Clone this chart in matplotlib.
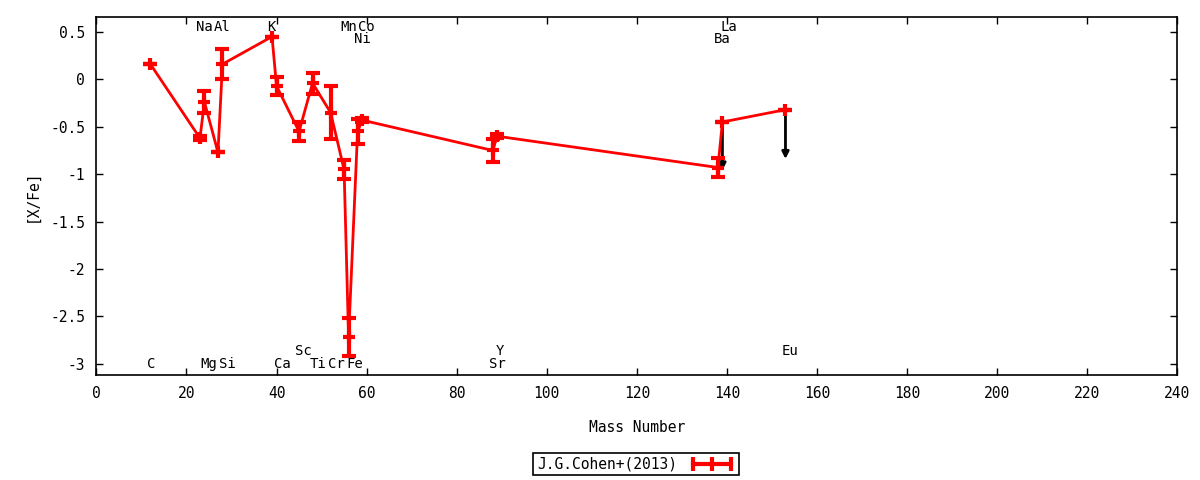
import matplotlib
matplotlib.use("Agg")
import matplotlib.pyplot as plt
from matplotlib.lines import Line2D

# abundance data
elements = ["C", "Na", "Mg", "Al", "Si", "K", "Ca", "Sc", "Ti", "Cr", "Mn",
            "Fe", "Ni", "Co", "Sr", "Y", "Ba", "La", "Eu"]
mass = [12, 23, 24, 27, 28, 39, 40, 45, 48, 52, 55, 56, 58, 59, 88, 89, 138, 139, 153]
x_fe = [0.16, -0.62, -0.24, -0.77, 0.16, 0.45, -0.07, -0.55, -0.04, -0.35, -0.95,
        -2.72, -0.55, -0.43, -0.75, -0.60, -0.93, -0.45, -0.32]
err = [0.0, 0.02, 0.12, 0.0, 0.155, 0.0, 0.095, 0.10, 0.11, 0.28, 0.10,
       0.20, 0.13, 0.02, 0.12, 0.02, 0.10, 0.0, 0.0]

# upper limits
ul_mass = [139, 153]
ul_val = [-0.47, -0.34]
ul_end = [-0.96, -0.84]

# element labels (x position, y position)
labels = ["Na", "Al", "K", "Mn", "Co", "La", "Ni", "Ba",
          "Sc", "Y", "Eu", "C", "Mg", "Si", "Ca", "Ti", "Cr", "Fe", "Sr"]
label_x = [23.9, 27.9, 38.8, 56.0, 60.0, 140.4, 59.0, 139.0,
           46.0, 89.5, 154.0, 12.2, 25.0, 29.1, 41.2, 49.2, 53.4, 57.3, 89.1]
label_y = [0.55, 0.55, 0.55, 0.55, 0.55, 0.55, 0.425, 0.425,
           -2.86, -2.86, -2.86, -3.0, -3.0, -3.0, -3.0, -3.0, -3.0, -3.0, -3.0]

plt.rcParams["font.family"] = ["DejaVu Sans Mono"]
plt.rcParams["font.size"] = 10

fig = plt.figure(figsize=(12, 4.8), dpi=100)
ax = fig.add_axes([0.0803, 0.219, 0.9008, 0.745])

ax.errorbar(mass, x_fe, yerr=err, color="red", lw=2, elinewidth=3,
            capsize=5, capthick=3, marker="+", ms=9, mew=3, zorder=3)

for m, v, e in zip(ul_mass, ul_val, ul_end):
    ax.annotate("", xy=(m, e), xytext=(m, v),
                arrowprops=dict(arrowstyle="-|>", color="black", lw=2,
                                mutation_scale=10, shrinkA=0, shrinkB=0),
                zorder=2)

for t, lx, ly in zip(labels, label_x, label_y):
    ax.text(lx, ly, t, ha="center", va="center", fontsize=10)

ax.set_xlim(0, 240)
ax.set_ylim(-3.116, 0.654)
ax.set_xticks(range(0, 241, 20))
ax.set_yticks([0.5, 0, -0.5, -1, -1.5, -2, -2.5, -3])
ax.set_yticklabels(["0.5", "0", "-0.5", "-1", "-1.5", "-2", "-2.5", "-3"])
ax.tick_params(direction="in", top=True, right=True, length=5, width=1,
               labelsize=10.5, pad=8)
for s in ax.spines.values():
    s.set_linewidth(1.2)

ax.set_xlabel("Mass Number", fontsize=10.5, labelpad=14)
ax.set_ylabel("[X/Fe]", fontsize=10.5, labelpad=8)

# key sample drawn like a horizontal error bar
key = Line2D([0], [0], color="red", lw=3, marker="|", ms=10, mew=3)
leg = fig.legend([key], ["J.G.Cohen+(2013)"], loc="center",
                 bbox_to_anchor=(0.53, 0.033), markerfirst=False, numpoints=3,
                 fancybox=False, edgecolor="black", framealpha=1,
                 fontsize=10.5, handlelength=3.2, borderpad=0.25)
leg.get_frame().set_linewidth(1.2)

fig.savefig("out.png", dpi=100)
